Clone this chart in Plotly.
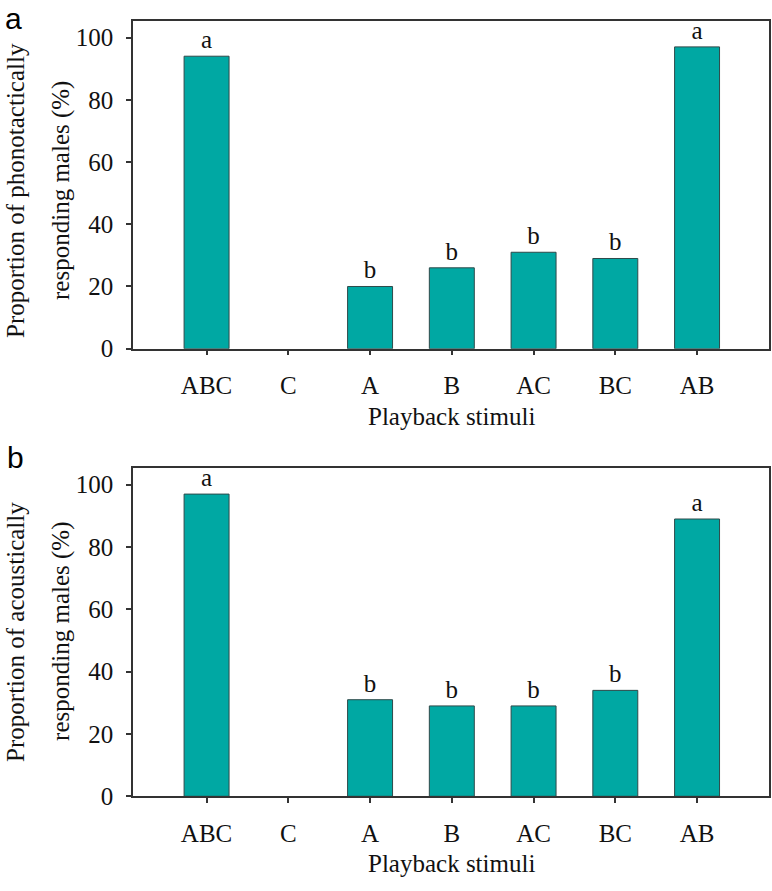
import plotly.graph_objects as go

# ---- data ----
stimuli = ["ABC", "C", "A", "B", "AC", "BC", "AB"]
phonotactic = [94, 0, 20, 26, 31, 29, 97]
acoustic = [97, 0, 31, 29, 29, 34, 89]
letters_a = ["a", "", "b", "b", "b", "b", "a"]
letters_b = ["a", "", "b", "b", "b", "b", "a"]
y_ticks = [0, 20, 40, 60, 80, 100]

TEAL = "#00A8A3"
EDGE = "#2E4A4A"
AXC = "#333333"
SERIF = "Liberation Serif, Times New Roman, serif"
SANS = "Liberation Sans, Arial, sans-serif"
FS = 25

W, H = 772, 891
def px_x(x):
    return x / W
def px_y(y):
    return 1 - y / H

fig = go.Figure()
for vals, lets, xa, ya in [(phonotactic, letters_a, "x", "y"), (acoustic, letters_b, "x2", "y2")]:
    fig.add_trace(go.Bar(
        x=stimuli, y=vals, text=lets, textposition="outside",
        textfont=dict(family=SERIF, size=FS, color="#111111"),
        constraintext="none", cliponaxis=False,
        marker=dict(color=TEAL, line=dict(color=EDGE, width=[0 if v == 0 else 1 for v in vals])),
        width=0.55, xaxis=xa, yaxis=ya, showlegend=False, hoverinfo="skip",
    ))

xdom = [px_x(133), px_x(769)]
axis_common = dict(showline=True, linecolor=AXC, linewidth=1.5, mirror=True,
                   ticks="outside", ticklen=5, tickwidth=1.5, tickcolor=AXC,
                   showgrid=False, zeroline=False,
                   tickfont=dict(family=SERIF, size=FS, color="#111111"))

fig.update_layout(
    width=W, height=H, margin=dict(l=0, r=0, t=0, b=0),
    paper_bgcolor="white", plot_bgcolor="white",
    xaxis=dict(domain=xdom, anchor="y", range=[-0.9, 6.88], ticklabelstandoff=9, **axis_common),
    yaxis=dict(domain=[px_y(354.3), px_y(21.7)], anchor="x", range=[0, 105.2],
               tickvals=y_ticks, ticklabelstandoff=8, **axis_common),
    xaxis2=dict(domain=xdom, anchor="y2", range=[-0.9, 6.88], ticklabelstandoff=9, **axis_common),
    yaxis2=dict(domain=[px_y(809), px_y(475.7)], anchor="x2", range=[0, 105.3],
                tickvals=y_ticks, ticklabelstandoff=8, **axis_common),
)

ann = []
# x-axis titles
for yt in [407, 862]:
    ann.append(dict(text="Playback stimuli", x=px_x(451), y=px_y(yt), xref="paper", yref="paper",
                    xanchor="center", yanchor="top", showarrow=False,
                    font=dict(family=SERIF, size=FS, color="#111111")))
# y-axis titles (two lines each)
for l1, yc in [("Proportion of phonotactically", 194), ("Proportion of acoustically", 642)]:
    ann.append(dict(text=l1, x=px_x(16), y=px_y(yc), xref="paper", yref="paper", textangle=-90,
                    xanchor="center", yanchor="middle", showarrow=False,
                    font=dict(family=SERIF, size=FS, color="#111111")))
    ann.append(dict(text="responding males (%)", x=px_x(61), y=px_y(yc), xref="paper", yref="paper",
                    textangle=-90, xanchor="center", yanchor="middle", showarrow=False,
                    font=dict(family=SERIF, size=FS, color="#111111")))
# panel labels
ann.append(dict(text="a", x=px_x(13), y=1, xref="paper", yref="paper",
                xanchor="center", yanchor="top", showarrow=False,
                font=dict(family=SANS, size=30, color="#000000")))
ann.append(dict(text="b", x=px_x(15), y=px_y(465), xref="paper", yref="paper",
                xanchor="center", yanchor="middle", showarrow=False,
                font=dict(family=SANS, size=30, color="#000000")))
fig.update_layout(annotations=ann)

fig.write_html("out.html", config={"displayModeBar": False},
               post_script="document.body.style.margin='0';document.body.style.padding='0';")
